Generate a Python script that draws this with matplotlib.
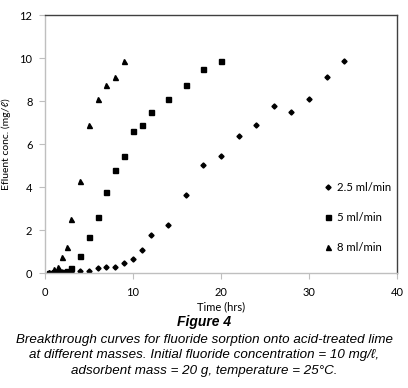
import matplotlib
matplotlib.use("Agg")
import matplotlib.pyplot as plt

# Data
t_25 = [0.5, 1, 1.5, 2, 2.5, 3, 4, 5, 6, 7, 8, 9, 10, 11, 12, 14, 16, 18, 20, 22, 24, 26, 28, 30, 32, 34]
c_25 = [0.02, 0.03, 0.03, 0.04, 0.04, 0.05, 0.08, 0.08, 0.25, 0.27, 0.29, 0.45, 0.64, 1.07, 1.77, 2.26,
        3.63, 5.02, 5.46, 6.36, 6.9, 7.78, 7.49, 8.09, 9.13, 9.87]
t_5 = [0.5, 1, 1.5, 2, 2.5, 3, 4, 5, 6, 7, 8, 9, 10, 11, 12, 14, 16, 18, 20]
c_5 = [0.02, 0.04, 0.05, 0.07, 0.1, 0.25, 0.82, 1.67, 2.62, 3.78, 4.82, 5.44, 6.62, 6.91, 7.49, 8.09,
       8.76, 9.5, 9.87]
t_8 = [0.5, 1, 1.5, 2, 2.5, 3, 4, 5, 6, 7, 8, 9]
c_8 = [0.05, 0.17, 0.29, 0.74, 1.21, 2.53, 4.28, 6.9, 8.09, 8.76, 9.13, 9.87]
labels = ["2.5 ml/min", "5 ml/min", "8 ml/min"]
x_ticks = [0, 10, 20, 30, 40]
y_ticks = [0, 2, 4, 6, 8, 10, 12]

fam = ["Lato", "DejaVu Sans"]
plt.rcParams["font.family"] = fam

fig = plt.figure(figsize=(4.08, 3.88), dpi=100)
ax = fig.add_axes([0.110, 0.296, 0.863, 0.665])

ax.plot(t_25, c_25, linestyle="none", marker="D", markersize=2.6, color="black", label=labels[0])
ax.plot(t_5, c_5, linestyle="none", marker="s", markersize=3.6, color="black", label=labels[1])
ax.plot(t_8, c_8, linestyle="none", marker="^", markersize=3.6, color="black", label=labels[2])

ax.set_xlim(0, 40)
ax.set_ylim(0, 12)
ax.set_xticks(x_ticks)
ax.set_yticks(y_ticks)
ax.tick_params(axis="both", labelsize=8, colors="#bfbfbf", labelcolor="black", length=4, width=0.8)
ax.tick_params(axis="x", pad=6)
ax.tick_params(axis="y", pad=5)

for s in ["top", "right"]:
    ax.spines[s].set_color("#404040")
    ax.spines[s].set_linewidth(1.0)
for s in ["left", "bottom"]:
    ax.spines[s].set_color("#bfbfbf")
    ax.spines[s].set_linewidth(1.0)

ax.set_xlabel("Time (hrs)", fontsize=8, labelpad=2)
ax.set_ylabel("Efluent conc. (mg/\u2113)", fontsize=7.5, labelpad=6)

leg = ax.legend(loc="center left", bbox_to_anchor=(0.765, 0.217), frameon=False, fontsize=8.2,
                labelspacing=1.68, handlelength=0.6, handletextpad=0.5, markerscale=1.0)

cap_fam = ["Liberation Sans", "DejaVu Sans"]
fig.text(0.5, 1 - 322 / 388, "Figure 4", ha="center", va="center", fontsize=10,
         fontweight="bold", fontstyle="italic", family=cap_fam)
cap_lines = [
    "Breakthrough curves for fluoride sorption onto acid-treated lime",
    "at different masses. Initial fluoride concentration = 10 mg/\u2113,",
    "adsorbent mass = 20 g, temperature = 25\u00b0C.",
]
for i, line in enumerate(cap_lines):
    fig.text(0.5, 1 - (340 + 15.3 * i) / 388, line, ha="center", va="center", fontsize=9.6,
             fontstyle="italic", family=cap_fam)

fig.savefig("out.png", dpi=100)
